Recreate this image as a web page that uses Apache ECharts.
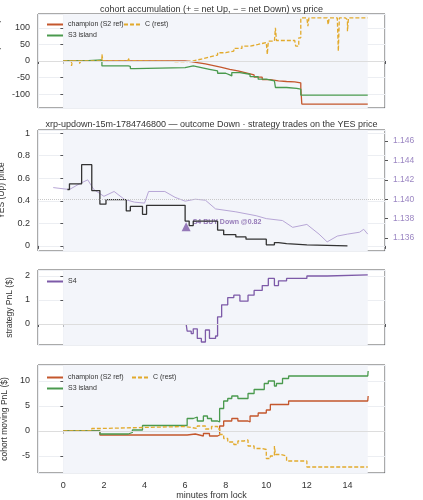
<!DOCTYPE html>
<html>
<head>
<meta charset="utf-8">
<script src="https://cdn.jsdelivr.net/npm/echarts@6/dist/echarts.min.js"></script>
<style>html,body{margin:0;padding:0;background:#fff}#c{width:423px;height:500px}</style>
</head>
<body>
<div id="c"></div>
<script>
// panel 1: accumulated net YES (shares)
var accChampion = [[0,0],[6,-2],[6.3,-5],[6.6,-9],[7,-14],[7.4,-19],[7.8,-25],[8.2,-30],[8.6,-36],[9,-42],[9.4,-49],[9.8,-56],[10.2,-60],[10.6,-62],[11,-63],[11.4,-66],[11.7,-80],[11.75,-130],[15,-130]];
var accS3 = [[0,0],[1,3],[1.9,-15],[3.2,-16],[3.3,-23],[3.5,-20],[6,-20],[6.05,-15],[6.4,-20],[6.8,-25],[7.2,-30],[7.6,-37],[8,-42],[8.2,-45],[8.3,-35],[8.7,-40],[9.2,-47],[9.6,-55],[10,-60],[10.4,-62],[10.45,-80],[11,-83],[11.5,-85],[11.7,-103],[15,-103]];
var accC = [[0,0],[0.2,-5],[0.25,0],[0.4,-15],[0.45,0],[0.8,-10],[0.85,0],[1.4,5],[1.45,0],[1.9,20],[1.95,0],[2.2,-5],[2.25,0],[3.2,10],[3.25,0],[4,-2],[6,0],[6.4,6],[6.8,12],[7.2,18],[7.6,25],[8,30],[8.4,38],[8.8,45],[9.2,50],[9.6,56],[10,60],[10.05,20],[10.1,60],[10.4,62],[10.45,100],[10.5,62],[11.4,63],[11.45,45],[11.6,70],[11.7,130],[12,130],[12.05,105],[12.1,130],[13,130],[13.05,110],[13.1,130],[13.5,130],[13.55,30],[13.6,130],[13.9,125],[14,90],[14.05,130],[15,130]];
// panel 2: YES price and XRP/USD
var yesPrice = [[0.2,0.5],[0.3,0.55],[0.4,0.55],[0.9,0.72],[1.4,0.49],[1.8,0.37],[2.1,0.41],[3.1,0.31],[3.3,0.35],[3.9,0.28],[4.1,0.36],[6,0.22],[6.2,0.18],[6.4,0.22],[7.6,0.14],[7.9,0.1],[8.5,0.08],[9,0.06],[10,0.01],[10.4,0.03],[10.6,0.02],[11,0.01],[12,0.0],[14,0.0]];
var xrpUsd = [[-0.5,1.1412],[0.3,1.1410],[0.8,1.1416],[1.2,1.1420],[1.5,1.1410],[2,1.1403],[2.5,1.1408],[3,1.1400],[3.5,1.1397],[4,1.1396],[4.2,1.1408],[5,1.1408],[5.5,1.1402],[6,1.1398],[6.5,1.1400],[7,1.1399],[7.5,1.1390],[8.5,1.1387],[9.5,1.1383],[10,1.1380],[10.8,1.1378],[11.3,1.1371],[12,1.1374],[12.6,1.1364],[13,1.1356],[13.5,1.1362],[14,1.1364],[14.6,1.1366],[14.8,1.1369],[15,1.1364]];
var strike = 1.1410;
var trades = [[6.05,0.17]];
// panel 3: strategy PnL
var pnlS4 = [[6.05,0],[6.1,-0.3],[6.3,-0.4],[6.4,-0.2],[6.6,-0.6],[6.8,-0.75],[7,-0.25],[7.2,-0.6],[7.5,-0.5],[7.6,0.3],[7.8,0.8],[8.1,1.1],[8.4,1.2],[8.7,0.95],[9.1,1.2],[9.4,1.4],[9.8,1.6],[10.1,1.9],[10.4,1.6],[10.6,1.8],[11,1.9],[12,2.0],[13,2.05],[15,2.05]];
// panel 4: cohort moving PnL
var pnlChampion = [[0,0],[1.8,-0.8],[6.1,-0.6],[6.5,-1],[6.9,-0.5],[7.2,-1],[7.6,-0.8],[7.7,1],[7.9,2],[8.3,2.5],[8.6,2],[9.1,1.8],[9.2,3],[9.6,3.6],[10,4.2],[10.2,5.3],[11.1,6],[15,6],[15.02,7]];
var pnlS3 = [[0,0],[1.8,-0.6],[3.2,-0.3],[3.4,0.2],[3.9,1.1],[6,1.1],[6.1,2.5],[6.4,2.8],[6.6,2],[6.9,3],[7.1,2.5],[7.3,2],[7.6,1.8],[7.7,4.5],[7.9,6],[8.1,6.5],[8.3,7],[8.6,6.5],[9.1,7.5],[9.4,8.3],[9.9,9.5],[10.1,10],[10.4,9],[10.5,9.5],[10.8,10.5],[11.1,11],[15,11],[15.02,12]];
var pnlC = [[0,0],[1.4,0.5],[1.8,0.7],[3.9,0.9],[6,0.5],[6.6,1],[7,0.4],[7.3,0.9],[7.6,0.4],[7.7,-0.7],[7.9,-1.5],[8.1,-2.2],[8.4,-2.7],[8.6,-2],[8.9,-1.8],[9.1,-3],[9.4,-3.5],[9.8,-3.7],[10,-5.5],[10.2,-5],[10.4,-3],[10.45,-4.7],[10.7,-5],[11,-6],[12,-7.2],[15,-7.2]];

var RED = '#c4572d', GREEN = '#4a9a4e', GOLD = '#e2aa2c', PURPLE = '#7d5aa8', LPURPLE = '#b7a6d6', INK = '#333';
var myChart = echarts.init(document.getElementById('c'));

var grids = [
	{left: 38, right: 38, top: 14, height: 94},
	{left: 38, right: 38, top: 130, height: 121},
	{left: 38, right: 38, top: 270, height: 75},
	{left: 38, right: 38, top: 365, height: 108}
];
grids.forEach(function(g) {
	g.borderColor = '#555'; g.borderWidth = 1; g.show = true;
	g.containLabel = false; g.outerBoundsMode = 'none';
});

function xAx(i, labels) {
	return {
		type: 'value', gridIndex: i, min: -1.25, max: 15.85, splitNumber: 8,
		axisLabel: {show: labels, fontSize: 9, color: INK, showMinLabel: false, showMaxLabel: false},
		axisTick: {show: true, length: 3}, axisLine: {show: false},
		splitLine: {show: true, lineStyle: {color: '#eceef2'}},
		name: labels ? 'minutes from lock' : '', nameLocation: 'middle', nameGap: 18,
		nameTextStyle: {fontSize: 9, color: INK}
	};
}
function yAx(i, min, max, split, name, gap) {
	return {
		type: 'value', gridIndex: i, min: min, max: max, splitNumber: split,
		axisLabel: {fontSize: 9, color: INK, showMinLabel: false, showMaxLabel: false},
		axisTick: {show: true, length: 3}, axisLine: {show: false},
		splitLine: {show: true, lineStyle: {color: '#eceef2'}},
		name: name, nameLocation: 'middle', nameGap: gap, nameRotate: 90,
		nameTextStyle: {fontSize: 8.5, color: INK}
	};
}
function stepLine(name, data, color, xi, yi, dashed) {
	return {
		name: name, type: 'line', step: 'end', data: data, xAxisIndex: xi, yAxisIndex: yi,
		showSymbol: false, symbol: 'none', animation: false,
		lineStyle: {color: color, width: 1.3, type: dashed ? [4, 2] : 'solid'},
		itemStyle: {color: color}
	};
}
function shade(xi, yi) {
	return {
		type: 'line', data: [], xAxisIndex: xi, yAxisIndex: yi, silent: true,
		markArea: {silent: true, itemStyle: {color: '#f3f5fa'}, data: [[{xAxis: 0}, {xAxis: 15}]]}
	};
}
function zeroLine(xi, yi, v) {
	return {type: 'line', data: [], xAxisIndex: xi, yAxisIndex: yi, markLine: {silent: true, symbol: 'none', label: {show: false},
		lineStyle: {color: '#dddddd', type: 'solid', width: 1}, data: [{yAxis: v}]}};
}

var legText = {fontSize: 7, color: INK};
var option = {
	animation: false,
	title: [
		{text: 'cohort accumulation (+ = net Up, \u2212 = net Down) vs price', left: 'center', top: 0,
			textStyle: {fontSize: 9, fontWeight: 'normal', color: INK}},
		{text: 'xrp-updown-15m-1784746800 \u2014 outcome Down \u00b7 strategy trades on the YES price', left: 'center', top: 115,
			textStyle: {fontSize: 9, fontWeight: 'normal', color: INK}}
	],
	legend: [
		{data: ['champion (S2 ref)', 'S3 island'], orient: 'vertical', left: 42, top: 16, itemWidth: 16, itemHeight: 2, itemGap: 4,
			textStyle: legText, icon: 'rect'},
		{data: ['C (rest)'], left: 118, top: 16, itemWidth: 16, itemHeight: 2, textStyle: legText},
		{data: ['S4 '], left: 42, top: 273, itemWidth: 16, itemHeight: 2, textStyle: legText, icon: 'rect'},
		{data: ['champion (S2 ref) ', 'S3 island '], orient: 'vertical', left: 42, top: 369, itemWidth: 16, itemHeight: 2, itemGap: 4,
			textStyle: legText, icon: 'rect'},
		{data: ['C (rest) '], left: 126, top: 369, itemWidth: 16, itemHeight: 2, textStyle: legText}
	],
	grid: grids,
	xAxis: [xAx(0, false), xAx(1, false), xAx(2, false), xAx(3, true)],
	yAxis: [
		yAx(0, -142, 142, 5, 'acc. net YES (shares)', 24),
		yAx(1, -0.045, 1.027, 5, 'YES (Up) price', 24),
		yAx(2, -0.875, 2.25, 3, 'strategy PnL ($)', 24),
		yAx(3, -8.4, 13.2, 4, 'cohort moving PnL ($)', 24),
		{
			type: 'value', gridIndex: 1, position: 'right', min: 1.13466, max: 1.14714, splitNumber: 6,
			axisLabel: {fontSize: 8.5, color: '#9b86c2', showMinLabel: false, showMaxLabel: false,
				formatter: function(v) { return v.toFixed(3); }},
			axisTick: {show: true, length: 3, lineStyle: {color: '#555'}}, axisLine: {show: false}, splitLine: {show: false},
			name: 'XRP/USD (strike dotted = YES 0.5)', nameLocation: 'middle', nameGap: 32, nameRotate: -90,
			nameTextStyle: {fontSize: 7.5, color: '#9b86c2'}
		}
	],
	series: [
		shade(0, 0), shade(1, 1), shade(2, 2), shade(3, 3),
		zeroLine(0, 0, 0),
		stepLine('champion (S2 ref)', accChampion, RED, 0, 0),
		stepLine('S3 island', accS3, GREEN, 0, 0),
		stepLine('C (rest)', accC, GOLD, 0, 0, true),
		{
			name: 'XRP/USD', type: 'line', data: xrpUsd, xAxisIndex: 1, yAxisIndex: 4, showSymbol: false,
			lineStyle: {color: LPURPLE, width: 1}, itemStyle: {color: LPURPLE},
			markLine: {silent: true, symbol: 'none', label: {show: false},
				lineStyle: {color: '#c8c8c8', type: 'dotted', width: 1}, data: [{yAxis: strike}]}
		},
		stepLine('YES', yesPrice, INK, 1, 1),
		{
			name: 'trade', type: 'scatter', data: trades, xAxisIndex: 1, yAxisIndex: 1,
			symbol: 'triangle', symbolSize: 9, itemStyle: {color: PURPLE},
			label: {show: true, position: 'right', distance: 2, offset: [0, -5], formatter: 'S4 BUY Down @0.82',
				fontSize: 7, fontWeight: 'bold', color: PURPLE}
		},
		zeroLine(2, 2, 0),
		stepLine('S4 ', pnlS4, PURPLE, 2, 2),
		zeroLine(3, 3, 0),
		stepLine('champion (S2 ref) ', pnlChampion, RED, 3, 3),
		stepLine('S3 island ', pnlS3, GREEN, 3, 3),
		stepLine('C (rest) ', pnlC, GOLD, 3, 3, true)
	]
};
myChart.setOption(option);
</script>
</body>
</html>
